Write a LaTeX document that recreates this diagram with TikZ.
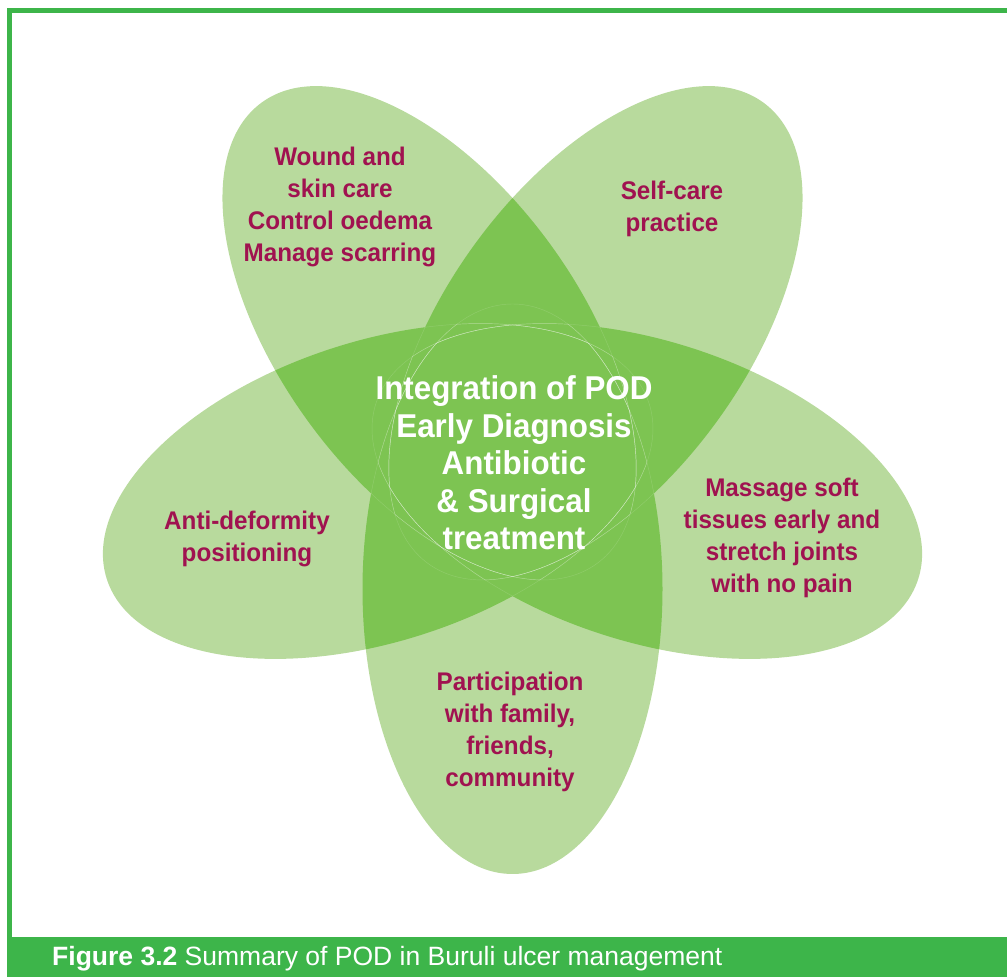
\documentclass[tikz,border=0pt]{standalone}
\usepackage{fontspec}
\setmainfont{Liberation Sans}
\newfontfamily\condfont{Liberation Sans}[FakeStretch=0.95]
\newfontfamily\centerfont{Liberation Sans}[FakeStretch=0.95]
\definecolor{framegreen}{RGB}{61,181,74}
\definecolor{petallight}{RGB}{184,218,157}
\definecolor{petaldark}{RGB}{125,196,82}
\definecolor{crimson}{RGB}{160,18,80}
\tikzset{
  pet/.style={shift={(512.5,529.5)}, shift={({-90+72*#1}:141.5)}, rotate={-90+72*#1}},
  petaltext/.style={align=center, inner sep=0pt, text=crimson,
    font=\condfont\bfseries\fontsize{25.5}{32}\selectfont},
  centertext/.style={align=center, inner sep=0pt, text=white,
    font=\centerfont\bfseries\fontsize{33}{37.5}\selectfont},
  faint/.style={draw=white, draw opacity=0.15, line width=0.45pt},
  framerule/.style={draw=framegreen, line width=5pt}
}
\begin{document}
\begin{tikzpicture}[x=1pt,y=1pt]
\useasboundingbox (0,0) rectangle (1007,977);
% petals
\foreach \n in {0,...,4}{
  \fill[petallight, pet=\n] (0,0) ellipse (285 and 150);
}
% overlaps
\foreach \i in {0,...,3}{
  \pgfmathtruncatemacro\ii{\i+1}
  \foreach \j in {\ii,...,4}{
    \begin{scope}
      \clip[pet=\i] (0,0) ellipse (285 and 150);
      \fill[petaldark, pet=\j] (0,0) ellipse (285 and 150);
    \end{scope}
  }
}
% faint outlines inside overlaps
\foreach \i in {0,...,3}{
  \pgfmathtruncatemacro\ii{\i+1}
  \foreach \j in {\ii,...,4}{
    \begin{scope}
      \clip[pet=\i] (0,0) ellipse (285 and 150);
      \clip[pet=\j] (0,0) ellipse (285 and 150);
      \foreach \k in {0,...,4}{
        \ifnum\k=\i\relax\else\ifnum\k=\j\relax\else
          \path[faint, pet=\k] (0,0) ellipse (285 and 150);
        \fi\fi
      }
    \end{scope}
  }
}
% frame
\coordinate (tr) at (1007,966.5);
\coordinate (tl) at (9.5,966.5);
\coordinate (bl) at (9.5,40);
\draw[framerule, line join=miter] (tr) -- (tl) -- (bl);
\fill[framegreen] (7,0) rectangle (1007,40);
\node[anchor=base west, inner sep=0pt, text=white, font=\fontsize{26.5}{30}\selectfont] (caption) at (52,11)
  {\textbf{Figure 3.2} Summary of POD in Buruli ulcer management};
% texts
\node[petaltext] (wound) at (340,770.5) {Wound and\\skin care\\Control oedema\\Manage scarring};
\node[petaltext] (self) at (672,768) {Self-care\\practice};
\node[petaltext] (anti) at (247,438) {Anti-deformity\\positioning};
\node[petaltext] (massage) at (782,439.5) {Massage soft\\tissues early and\\stretch joints\\with no pain};
\node[petaltext] (part) at (510,245) {Participation\\with family,\\friends,\\community};
\node[centertext] (center) at (514,514) {Integration of POD\\Early Diagnosis\\Antibiotic\\\& Surgical\\treatment};
\end{tikzpicture}
\end{document}
